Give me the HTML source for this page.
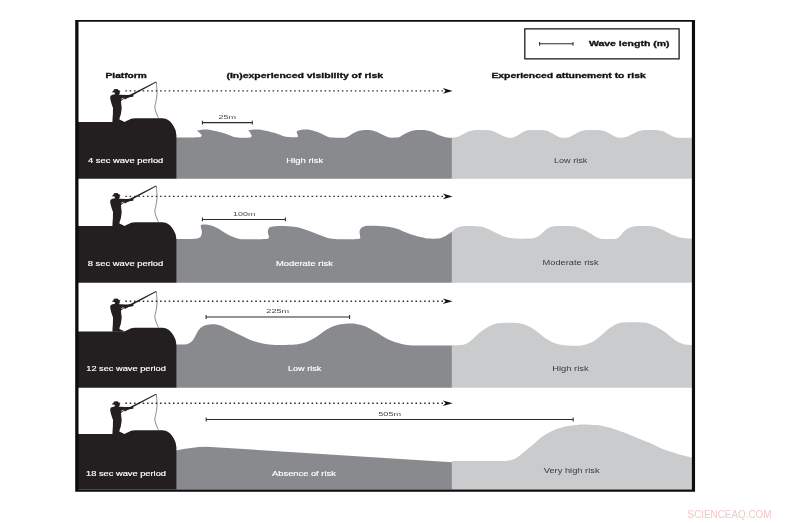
<!DOCTYPE html>
<html lang="en"><head><meta charset="utf-8"><title>Wave period and risk</title>
<style>
html,body{margin:0;padding:0;background:#fff;}
body{width:787px;height:523px;overflow:hidden;}
svg{display:block;font-family:"Liberation Sans",Arial,Helvetica,sans-serif;}
</style></head><body>
<svg width="787" height="523" viewBox="0 0 787 523">
<rect x="0" y="0" width="787" height="523" fill="#fff"/>
<path d="M176,137.4 C177.67,137.4 183.17,137.4 186,137.4 C188.83,137.4 191.83,137.4 193,137.4 C193.67,137.39 195.77,137.42 197,137.35 C198.23,137.28 199.6,137.31 200.4,137 C201.2,136.69 201.57,135.75 201.8,135.5 C201.55,135.18 200.87,134.23 200.3,133.6 C199.73,132.97 199,132.2 198.4,131.7 C197.8,131.2 196.98,130.78 196.7,130.6 C197.33,130.48 199.03,130.07 200.5,129.9 C201.97,129.73 203.83,129.58 205.5,129.6 C207.17,129.62 208.83,129.75 210.5,130 C212.17,130.25 213.08,130.5 215.5,131.1 C217.92,131.7 222.15,132.7 225,133.6 C227.85,134.5 230.43,135.85 232.6,136.5 C234.77,137.15 236.27,137.28 238,137.5 C239.73,137.72 242.17,137.75 243,137.8 C243.75,137.8 246.2,137.88 247.5,137.8 C248.8,137.72 250.1,137.65 250.8,137.3 C251.5,136.95 251.55,135.97 251.7,135.7 C251.52,135.35 250.98,134.28 250.6,133.6 C250.22,132.92 249.82,132.13 249.4,131.6 C248.98,131.07 248.32,130.6 248.1,130.4 C248.75,130.3 250.52,129.95 252,129.8 C253.48,129.65 255.33,129.48 257,129.5 C258.67,129.52 260.33,129.65 262,129.9 C263.67,130.15 264.58,130.4 267,131 C269.42,131.6 273.83,132.67 276.5,133.5 C279.17,134.33 281.08,135.4 283,136 C284.92,136.6 286.38,136.88 288,137.1 C289.62,137.32 291.92,137.27 292.7,137.3 C293.17,137.3 294.7,137.33 295.5,137.3 C296.3,137.27 297.1,137.28 297.5,137.1 C297.9,136.92 297.83,136.35 297.9,136.2 C297.83,135.9 297.7,135 297.5,134.4 C297.3,133.8 296.78,133.15 296.7,132.6 C296.62,132.05 296.95,131.35 297,131.1 C297.58,130.92 299.1,130.25 300.5,130 C301.9,129.75 303.73,129.62 305.4,129.6 C307.07,129.58 308.9,129.63 310.5,129.9 C312.1,130.17 313.42,130.7 315,131.2 C316.58,131.7 318.5,132.27 320,132.9 C321.5,133.53 322.63,134.33 324,135 C325.37,135.67 326.7,136.48 328.2,136.9 C329.7,137.32 331.2,137.37 333,137.5 C334.8,137.63 337.17,137.67 339,137.7 C340.83,137.73 342.67,137.83 344,137.7 C345.33,137.57 345.97,137.32 347,136.9 C348.03,136.48 349.25,135.75 350.2,135.2 C351.15,134.65 351.87,134.1 352.7,133.6 C353.53,133.1 354.37,132.6 355.2,132.2 C356.03,131.8 356.85,131.47 357.7,131.2 C358.55,130.93 359.02,130.82 360.3,130.6 C361.58,130.38 363.95,129.98 365.4,129.9 C366.85,129.82 367.82,129.98 369,130.1 C370.18,130.22 371.42,130.37 372.5,130.6 C373.58,130.83 374.48,131.15 375.5,131.5 C376.52,131.85 377.65,132.28 378.6,132.7 C379.55,133.12 380.35,133.58 381.2,134 C382.05,134.42 382.6,134.7 383.7,135.2 C384.8,135.7 386.75,136.62 387.8,137 C388.85,137.38 389.17,137.38 390,137.5 C390.83,137.62 391.8,137.73 392.8,137.75 C393.8,137.77 394.97,137.69 396,137.6 C397.03,137.51 398.17,137.43 399,137.2 C399.83,136.97 400.33,136.62 401,136.2 C401.67,135.78 402.25,135.17 403,134.7 C403.75,134.23 404.65,133.82 405.5,133.4 C406.35,132.98 407.25,132.55 408.1,132.2 C408.95,131.85 409.75,131.57 410.6,131.3 C411.45,131.03 412.22,130.8 413.2,130.6 C414.18,130.4 415.37,130.22 416.5,130.1 C417.63,129.98 418.75,129.9 420,129.9 C421.25,129.9 422.67,129.95 424,130.1 C425.33,130.25 426.83,130.55 428,130.8 C429.17,131.05 430,131.27 431,131.6 C432,131.93 433,132.37 434,132.8 C435,133.23 436,133.75 437,134.2 C438,134.65 439,135.1 440,135.5 C441,135.9 442,136.3 443,136.6 C444,136.9 445,137.12 446,137.3 C447,137.48 447.97,137.62 449,137.7 C450.03,137.78 451.67,137.78 452.2,137.8 L452.2,178.7 L176,178.7Z" fill="#888a8e"/>
<path d="M451.8,138 C451.92,137.97 452.05,137.86 452.5,137.8 C452.95,137.74 453.83,137.73 454.5,137.62 C455.17,137.51 455.83,137.33 456.5,137.12 C457.17,136.92 457.83,136.66 458.5,136.38 C459.17,136.11 459.83,135.79 460.5,135.47 C461.17,135.15 461.83,134.81 462.5,134.46 C463.17,134.12 463.83,133.77 464.5,133.43 C465.17,133.09 465.83,132.75 466.5,132.44 C467.17,132.13 467.83,131.82 468.5,131.56 C469.17,131.3 469.83,131.06 470.5,130.88 C471.17,130.69 471.83,130.55 472.5,130.45 C473.17,130.36 473.83,130.35 474.5,130.29 C475.17,130.23 475.83,130.15 476.5,130.09 C477.17,130.04 477.83,130 478.5,129.96 C479.17,129.93 479.83,129.91 480.5,129.9 C481.17,129.9 481.83,129.9 482.5,129.91 C483.17,129.93 483.83,129.95 484.5,129.99 C485.17,130.03 485.83,130.08 486.5,130.14 C487.17,130.2 487.83,130.28 488.5,130.35 C489.17,130.42 489.83,130.42 490.5,130.53 C491.17,130.64 491.83,130.82 492.5,131.03 C493.17,131.23 493.83,131.49 494.5,131.77 C495.17,132.04 495.83,132.36 496.5,132.68 C497.17,133 497.83,133.34 498.5,133.69 C499.17,134.03 499.83,134.38 500.5,134.72 C501.17,135.06 501.83,135.4 502.5,135.71 C503.17,136.02 503.83,136.33 504.5,136.59 C505.17,136.85 505.83,137.09 506.5,137.27 C507.17,137.46 507.92,137.61 508.5,137.7 C509.08,137.78 509.58,137.78 510,137.8 C510.42,137.82 510.5,137.84 511,137.8 C511.5,137.76 512.33,137.7 513,137.53 C513.67,137.37 514.33,137.1 515,136.81 C515.67,136.52 516.33,136.15 517,135.77 C517.67,135.4 518.33,134.97 519,134.55 C519.67,134.14 520.33,133.69 521,133.28 C521.67,132.87 522.33,132.45 523,132.1 C523.67,131.74 524.33,131.39 525,131.12 C525.67,130.86 526.33,130.64 527,130.5 C527.67,130.37 528.33,130.36 529,130.29 C529.67,130.23 530.33,130.16 531,130.11 C531.67,130.05 532.33,130.01 533,129.98 C533.67,129.95 534.33,129.92 535,129.91 C535.67,129.9 536.33,129.9 537,129.9 C537.67,129.91 538.33,129.93 539,129.96 C539.67,129.98 540.33,130.02 541,130.07 C541.67,130.12 542.33,130.18 543,130.24 C543.67,130.3 544.33,130.31 545,130.41 C545.67,130.51 546.33,130.65 547,130.85 C547.67,131.05 548.33,131.33 549,131.63 C549.67,131.92 550.33,132.28 551,132.64 C551.67,133 552.33,133.4 553,133.78 C553.67,134.17 554.33,134.57 555,134.95 C555.67,135.33 556.33,135.71 557,136.04 C557.67,136.37 558.33,136.69 559,136.95 C559.67,137.2 560.33,137.43 561,137.57 C561.67,137.71 562.25,137.76 563,137.8 C563.75,137.84 564.75,137.84 565.5,137.8 C566.25,137.76 566.83,137.72 567.5,137.58 C568.17,137.45 568.83,137.23 569.5,136.99 C570.17,136.74 570.83,136.44 571.5,136.12 C572.17,135.8 572.83,135.43 573.5,135.07 C574.17,134.7 574.83,134.31 575.5,133.93 C576.17,133.56 576.83,133.16 577.5,132.81 C578.17,132.45 578.83,132.1 579.5,131.79 C580.17,131.49 580.83,131.2 581.5,130.98 C582.17,130.76 582.83,130.59 583.5,130.48 C584.17,130.36 584.83,130.36 585.5,130.29 C586.17,130.23 586.83,130.16 587.5,130.11 C588.17,130.05 588.83,130.01 589.5,129.98 C590.17,129.95 590.83,129.92 591.5,129.91 C592.17,129.9 592.83,129.9 593.5,129.9 C594.17,129.91 594.83,129.93 595.5,129.96 C596.17,129.98 596.83,130.02 597.5,130.07 C598.17,130.12 598.83,130.19 599.5,130.24 C600.17,130.3 600.83,130.31 601.5,130.4 C602.17,130.5 602.83,130.62 603.5,130.8 C604.17,130.99 604.83,131.24 605.5,131.51 C606.17,131.79 606.83,132.12 607.5,132.45 C608.17,132.78 608.83,133.15 609.5,133.52 C610.17,133.88 610.83,134.27 611.5,134.63 C612.17,135 612.83,135.37 613.5,135.7 C614.17,136.03 614.83,136.36 615.5,136.64 C616.17,136.91 616.83,137.16 617.5,137.35 C618.17,137.53 619,137.67 619.5,137.75 C620,137.82 620.17,137.79 620.5,137.8 C620.83,137.81 621,137.83 621.5,137.8 C622,137.77 622.83,137.73 623.5,137.62 C624.17,137.51 624.83,137.33 625.5,137.12 C626.17,136.92 626.83,136.66 627.5,136.38 C628.17,136.11 628.83,135.79 629.5,135.47 C630.17,135.15 630.83,134.81 631.5,134.46 C632.17,134.12 632.83,133.77 633.5,133.43 C634.17,133.09 634.83,132.75 635.5,132.44 C636.17,132.13 636.83,131.82 637.5,131.56 C638.17,131.3 638.83,131.06 639.5,130.88 C640.17,130.69 640.83,130.55 641.5,130.45 C642.17,130.36 642.83,130.35 643.5,130.29 C644.17,130.24 644.83,130.16 645.5,130.11 C646.17,130.05 646.83,130.01 647.5,129.98 C648.17,129.95 648.83,129.92 649.5,129.91 C650.17,129.9 650.83,129.9 651.5,129.9 C652.17,129.91 652.83,129.93 653.5,129.96 C654.17,129.98 654.83,130.02 655.5,130.07 C656.17,130.12 656.83,130.19 657.5,130.24 C658.17,130.3 658.83,130.31 659.5,130.4 C660.17,130.5 660.83,130.62 661.5,130.8 C662.17,130.99 662.83,131.24 663.5,131.51 C664.17,131.79 664.83,132.12 665.5,132.45 C666.17,132.78 666.83,133.15 667.5,133.52 C668.17,133.88 668.83,134.27 669.5,134.63 C670.17,135 670.83,135.37 671.5,135.7 C672.17,136.03 672.83,136.36 673.5,136.64 C674.17,136.91 674.83,137.16 675.5,137.35 C676.17,137.53 677,137.67 677.5,137.75 C678,137.82 675.92,137.79 678.5,137.8 C681.08,137.81 690.58,137.8 693,137.8 L693,178.7 L451.8,178.7Z" fill="#c9cbcd"/>
<path d="M176,238.9 C177.67,238.9 183.17,238.9 186,238.9 C188.83,238.9 191.83,238.9 193,238.9 C193.67,238.85 195.8,238.88 197,238.6 C198.2,238.32 199.42,237.92 200.2,237.2 C200.98,236.48 201.45,235.42 201.7,234.3 C201.95,233.18 201.83,231.63 201.7,230.5 C201.57,229.37 201.05,228.38 200.9,227.5 C200.75,226.62 200.82,225.58 200.8,225.2 C201.17,225.1 202.23,224.7 203,224.6 C203.77,224.5 204.23,224.48 205.4,224.6 C206.57,224.72 208.3,224.87 210,225.3 C211.7,225.73 213.83,226.42 215.6,227.2 C217.37,227.98 218.92,228.98 220.6,230 C222.28,231.02 224,232.3 225.7,233.3 C227.4,234.3 229.1,235.23 230.8,236 C232.5,236.77 234.37,237.42 235.9,237.9 C237.43,238.38 238.48,238.68 240,238.9 C241.52,239.12 242.5,239.15 245,239.2 C247.5,239.25 252.17,239.2 255,239.2 C257.83,239.2 260.83,239.2 262,239.2 C262.58,239.18 264.47,239.22 265.5,239.1 C266.53,238.98 267.62,238.88 268.2,238.5 C268.78,238.12 268.87,237.08 269,236.8 C268.88,236.42 268.5,235.25 268.3,234.5 C268.1,233.75 267.85,233.02 267.8,232.3 C267.75,231.58 267.82,230.88 268,230.2 C268.18,229.52 268.48,228.73 268.9,228.2 C269.32,227.67 269.48,227.33 270.5,227 C271.52,226.67 273.32,226.37 275,226.2 C276.68,226.03 278.43,226 280.6,226 C282.77,226 285.45,226.03 288,226.2 C290.55,226.37 293.32,226.55 295.9,227 C298.48,227.45 300.97,228.1 303.5,228.9 C306.03,229.7 308.32,230.73 311.1,231.8 C313.88,232.87 317.8,234.4 320.2,235.3 C322.6,236.2 323.82,236.68 325.5,237.2 C327.18,237.72 328.72,238.1 330.3,238.4 C331.88,238.7 333.3,238.87 335,239 C336.7,239.13 338.33,239.17 340.5,239.2 C342.67,239.23 345.58,239.2 348,239.2 C350.42,239.2 353.83,239.2 355,239.2 C355.5,239.18 357.18,239.2 358,239.1 C358.82,239 359.52,238.88 359.9,238.6 C360.28,238.32 360.23,237.6 360.3,237.4 C360.23,237 360.02,235.82 359.9,235 C359.78,234.18 359.62,233.3 359.6,232.5 C359.58,231.7 359.58,230.92 359.8,230.2 C360.02,229.48 360.4,228.73 360.9,228.2 C361.4,227.67 362.07,227.35 362.8,227 C363.53,226.65 364.45,226.32 365.3,226.1 C366.15,225.88 366.45,225.77 367.9,225.7 C369.35,225.63 371.98,225.65 374,225.7 C376.02,225.75 377.67,225.82 380,226 C382.33,226.18 385.47,226.43 388,226.8 C390.53,227.17 393.15,227.67 395.2,228.2 C397.25,228.73 398.6,229.32 400.3,230 C402,230.68 403.7,231.6 405.4,232.3 C407.1,233 408.8,233.62 410.5,234.2 C412.2,234.78 413.92,235.32 415.6,235.8 C417.28,236.28 418.92,236.7 420.6,237.1 C422.28,237.5 424.22,237.95 425.7,238.2 C427.18,238.45 428.32,238.52 429.5,238.6 C430.68,238.68 431.55,238.72 432.8,238.7 C434.05,238.68 435.63,238.63 437,238.5 C438.37,238.37 439.5,238.37 441,237.9 C442.5,237.43 444.13,236.75 446,235.7 C447.87,234.65 451.17,232.28 452.2,231.6 L452.2,282.8 L176,282.8Z" fill="#888a8e"/>
<path d="M451.8,231.8 C452.52,231.2 454.37,229.12 456.1,228.2 C457.83,227.28 459.83,226.68 462.2,226.3 C464.57,225.92 467.25,225.85 470.3,225.9 C473.35,225.95 477.62,226.13 480.5,226.6 C483.38,227.07 485.4,227.85 487.6,228.7 C489.8,229.55 491.67,230.68 493.7,231.7 C495.73,232.72 497.77,233.9 499.8,234.8 C501.83,235.7 503.7,236.52 505.9,237.1 C508.1,237.68 510.47,238.03 513,238.3 C515.53,238.57 518.6,238.65 521.1,238.7 C523.6,238.75 525.98,238.68 528,238.6 C530.02,238.52 531.48,238.58 533.2,238.2 C534.92,237.82 536.77,237.22 538.3,236.3 C539.83,235.38 541.05,233.88 542.4,232.7 C543.75,231.52 545.05,230.13 546.4,229.2 C547.75,228.27 548.97,227.62 550.5,227.1 C552.03,226.58 553.35,226.3 555.6,226.1 C557.85,225.9 561.13,225.88 564,225.9 C566.87,225.92 570.32,225.9 572.8,226.2 C575.28,226.5 576.87,227.03 578.9,227.7 C580.93,228.37 582.97,229.2 585,230.2 C587.03,231.2 589.38,232.63 591.1,233.7 C592.82,234.77 593.7,235.75 595.3,236.6 C596.9,237.45 598.58,238.38 600.7,238.8 C602.82,239.22 605.55,239.1 608,239.1 C610.45,239.1 613.5,239.2 615.4,238.8 C617.3,238.4 618.07,237.83 619.4,236.7 C620.73,235.57 622.07,233.33 623.4,232 C624.73,230.67 625.85,229.58 627.4,228.7 C628.95,227.82 630.93,227.15 632.7,226.7 C634.47,226.25 636.12,226.13 638,226 C639.88,225.87 642,225.88 644,225.9 C646,225.92 647.88,225.82 650,226.1 C652.12,226.38 654.47,226.9 656.7,227.6 C658.93,228.3 661.17,229.28 663.4,230.3 C665.63,231.32 667.88,232.68 670.1,233.7 C672.32,234.72 674.48,235.68 676.7,236.4 C678.92,237.12 680.95,237.62 683.4,238 C685.85,238.38 689.8,238.58 691.4,238.7 C693,238.82 692.73,238.7 693,238.7 L693,282.8 L451.8,282.8Z" fill="#c9cbcd"/>
<path d="M176,344.4 C176.83,344.4 179.23,344.43 181,344.4 C182.77,344.37 185.1,344.47 186.6,344.2 C188.1,343.93 188.9,343.53 190,342.8 C191.1,342.07 192.25,341.05 193.2,339.8 C194.15,338.55 194.88,336.82 195.7,335.3 C196.52,333.78 197.3,331.92 198.1,330.7 C198.9,329.48 199.67,328.75 200.5,328 C201.33,327.25 202.13,326.72 203.1,326.2 C204.07,325.68 205.2,325.2 206.3,324.9 C207.4,324.6 208.58,324.5 209.7,324.4 C210.82,324.3 211.9,324.28 213,324.3 C214.1,324.32 215.05,324.28 216.3,324.5 C217.55,324.72 219.12,325.12 220.5,325.6 C221.88,326.08 222.55,326.42 224.6,327.4 C226.65,328.38 230.05,330.13 232.8,331.5 C235.55,332.87 238.35,334.28 241.1,335.6 C243.85,336.92 246.55,338.28 249.3,339.4 C252.05,340.52 254.85,341.52 257.6,342.3 C260.35,343.08 263.48,343.68 265.8,344.1 C268.12,344.52 269.57,344.63 271.5,344.8 C273.43,344.97 274.98,345.08 277.4,345.1 C279.82,345.12 283.07,345 286,344.9 C288.93,344.8 292.67,344.7 295,344.5 C297.33,344.3 298.3,344.05 300,343.7 C301.7,343.35 303.5,342.98 305.2,342.4 C306.9,341.82 308.52,341.03 310.2,340.2 C311.88,339.37 313.6,338.45 315.3,337.4 C317,336.35 318.7,335.1 320.4,333.9 C322.1,332.7 323.8,331.27 325.5,330.2 C327.2,329.13 328.9,328.27 330.6,327.5 C332.3,326.73 334,326.13 335.7,325.6 C337.4,325.07 339.12,324.62 340.8,324.3 C342.48,323.98 344.1,323.83 345.8,323.7 C347.5,323.57 349.3,323.47 351,323.5 C352.7,323.53 354.33,323.65 356,323.9 C357.67,324.15 359.3,324.52 361,325 C362.7,325.48 364.48,326.07 366.2,326.8 C367.92,327.53 369.62,328.48 371.3,329.4 C372.98,330.32 374.62,331.3 376.3,332.3 C377.98,333.3 379.7,334.38 381.4,335.4 C383.1,336.42 384.82,337.52 386.5,338.4 C388.18,339.28 389.82,340.03 391.5,340.7 C393.18,341.37 394.9,341.87 396.6,342.4 C398.3,342.93 400,343.48 401.7,343.9 C403.4,344.32 404.92,344.65 406.8,344.9 C408.68,345.15 410.8,345.3 413,345.4 C415.2,345.5 416.33,345.48 420,345.5 C423.67,345.52 429.63,345.5 435,345.5 C440.37,345.5 449.33,345.5 452.2,345.5 L452.2,387.8 L176,387.8Z" fill="#888a8e"/>
<path d="M451.8,345.2 C452.83,345.2 456.1,345.27 458,345.2 C459.9,345.13 461.78,345.07 463.2,344.8 C464.62,344.53 465.4,344.17 466.5,343.6 C467.6,343.03 468.55,342.37 469.8,341.4 C471.05,340.43 472.63,339.03 474,337.8 C475.37,336.57 476.63,335.18 478,334 C479.37,332.82 480.82,331.72 482.2,330.7 C483.58,329.68 484.92,328.73 486.3,327.9 C487.68,327.07 489.12,326.33 490.5,325.7 C491.88,325.07 493.35,324.5 494.6,324.1 C495.85,323.7 496.9,323.5 498,323.3 C499.1,323.1 499.28,323 501.2,322.9 C503.12,322.8 506.75,322.68 509.5,322.7 C512.25,322.72 515.5,322.78 517.7,323 C519.9,323.22 521.05,323.55 522.7,324 C524.35,324.45 526.1,325.03 527.6,325.7 C529.1,326.37 530.33,327.17 531.7,328 C533.07,328.83 534.42,329.7 535.8,330.7 C537.18,331.7 538.62,332.9 540,334 C541.38,335.1 542.72,336.3 544.1,337.3 C545.48,338.3 546.92,339.17 548.3,340 C549.68,340.83 551.03,341.68 552.4,342.3 C553.77,342.92 555.13,343.3 556.5,343.7 C557.87,344.1 558.85,344.4 560.6,344.7 C562.35,345 564.6,345.32 567,345.5 C569.4,345.68 572.58,345.8 575,345.8 C577.42,345.8 579.67,345.7 581.5,345.5 C583.33,345.3 584.62,345 586,344.6 C587.38,344.2 588.47,343.72 589.8,343.1 C591.13,342.48 592.63,341.73 594,340.9 C595.37,340.07 596.63,339.15 598,338.1 C599.37,337.05 600.82,335.83 602.2,334.6 C603.58,333.37 604.92,331.9 606.3,330.7 C607.68,329.5 609.12,328.37 610.5,327.4 C611.88,326.43 613.23,325.6 614.6,324.9 C615.97,324.2 617.33,323.6 618.7,323.2 C620.07,322.8 620.33,322.67 622.8,322.5 C625.27,322.33 629.92,322.2 633.5,322.2 C637.08,322.2 641.55,322.2 644.3,322.5 C647.05,322.8 648.08,323.32 650,324 C651.92,324.68 654.13,325.77 655.8,326.6 C657.47,327.43 658.62,328.18 660,329 C661.38,329.82 662.72,330.53 664.1,331.5 C665.48,332.47 666.92,333.7 668.3,334.8 C669.68,335.9 671.03,337.08 672.4,338.1 C673.77,339.12 675.13,340.07 676.5,340.9 C677.87,341.73 679.35,342.55 680.6,343.1 C681.85,343.65 682.9,343.93 684,344.2 C685.1,344.47 685.7,344.57 687.2,344.7 C688.7,344.83 692.03,344.95 693,345 L693,387.8 L451.8,387.8Z" fill="#c9cbcd"/>
<path d="M176,450.4 C186,448.4 196,446.9 206.6,446.75 L452.2,462.2 L452.2,489.5 L176,489.5Z" fill="#888a8e"/>
<path d="M451.8,461 C454.83,461 463.63,461 470,461 C476.37,461 484.67,461 490,461 C495.33,461 498.88,461.07 502,461 C505.12,460.93 506.25,461.15 508.7,460.6 C511.15,460.05 514.32,459 516.7,457.7 C519.08,456.4 520.78,454.58 523,452.8 C525.22,451.02 527.72,448.93 530,447 C532.28,445.07 534.47,443.07 536.7,441.2 C538.93,439.33 541.18,437.35 543.4,435.8 C545.62,434.25 547.78,433.05 550,431.9 C552.22,430.75 554.48,429.73 556.7,428.9 C558.92,428.07 561.08,427.43 563.3,426.9 C565.52,426.37 567.77,426.03 570,425.7 C572.23,425.37 574.47,425.08 576.7,424.9 C578.93,424.72 581.18,424.63 583.4,424.6 C585.62,424.57 587.78,424.62 590,424.7 C592.22,424.78 594.47,424.85 596.7,425.1 C598.93,425.35 601.17,425.75 603.4,426.2 C605.63,426.65 607.88,427.18 610.1,427.8 C612.32,428.42 614.48,429.15 616.7,429.9 C618.92,430.65 621.18,431.45 623.4,432.3 C625.62,433.15 627.78,434.1 630,435 C632.22,435.9 634.47,436.8 636.7,437.7 C638.93,438.6 641.17,439.52 643.4,440.4 C645.63,441.28 647.88,442.03 650.1,443 C652.32,443.97 654.48,445.17 656.7,446.2 C658.92,447.23 661.18,448.3 663.4,449.2 C665.62,450.1 667.77,450.85 670,451.6 C672.23,452.35 674.55,453.03 676.8,453.7 C679.05,454.37 681.28,455.02 683.5,455.6 C685.72,456.18 688.52,456.83 690.1,457.2 C691.68,457.57 692.52,457.7 693,457.8 L693,489.6 L451.8,489.6Z" fill="#c9cbcd"/>
<path d="M76,122 L122.5,122 C127,122 129,118.2 135,118.2 L162.5,118.2 C167,118.4 170,120.8 171.6,123.2 C174,126.5 175.3,129.2 175.7,130.8 L176.4,135.2 L176.4,178.7 L76,178.7 Z" fill="#231f20"/>
<path d="M113.8,89.3 L117.6,89.1 L118.6,90.3 L120.2,90.7 L120.3,91.5 L119.6,91.8 L119.9,93.2 L119.2,94.2 L118.6,94.6 L120,94.7 L126,94.9 L131.5,94.8 L133.3,94.6 L133.5,96.4 L131.5,96.9 L127,97.4 L125,98 L123,99.4 L121,100.9 L121.2,104 L121.7,107.5 L121.5,110 L120.8,114.5 L119.6,118 L119.4,119.6 L121.5,120.4 L123.6,121.3 L123.6,122.3 L112.4,122.3 L112.5,119.3 L112.9,114 L113,108 L111.8,104.5 L111,102 L110.3,99 L110.2,96.8 L111,95.4 L112.5,94.8 L115,94.2 L114.6,92.6 L112.1,92.3 L112.3,91.5 L113.6,90.8Z" fill="#231f20"/><path d="M121.4,98.4 L124.2,97.5 L121.6,99.7Z" fill="#fff"/><path d="M124.0,97.8 L156.0,81.6 L156.55,82.3 L124.9,99.5Z" fill="#231f20"/><path d="M156.3,82 C156.6,86 157.3,91 157,94.5 C156.7,98 156,101 155.6,103.5 C155.3,105 154.6,106 154.8,107.4 C155,109.5 155.7,111 156.2,112.7 C156.8,114.5 157.8,116 158.5,117.9" fill="none" stroke="#3a3a3a" stroke-width="0.6"/>
<line x1="125.4" y1="90.9" x2="444" y2="90.9" stroke="#2a2a2a" stroke-width="1.4" stroke-dasharray="1.5 2.83"/>
<path d="M452.6,90.9 L442.8,88.1 L445.6,90.9 L442.8,93.7Z" fill="#111"/>
<path d="M76,226 L122.5,226 C127,226 129,222.2 135,222.2 L162.5,222.2 C167,222.4 170,224.8 171.6,227.2 C174,230.5 175.3,233.2 175.7,234.8 L176.4,239.2 L176.4,282.8 L76,282.8 Z" fill="#231f20"/>
<path d="M113.8,193.3 L117.6,193.1 L118.6,194.3 L120.2,194.7 L120.3,195.5 L119.6,195.8 L119.9,197.2 L119.2,198.2 L118.6,198.6 L120,198.7 L126,198.9 L131.5,198.8 L133.3,198.6 L133.5,200.4 L131.5,200.9 L127,201.4 L125,202 L123,203.4 L121,204.9 L121.2,208 L121.7,211.5 L121.5,214 L120.8,218.5 L119.6,222 L119.4,223.6 L121.5,224.4 L123.6,225.3 L123.6,226.3 L112.4,226.3 L112.5,223.3 L112.9,218 L113,212 L111.8,208.5 L111,206 L110.3,203 L110.2,200.8 L111,199.4 L112.5,198.8 L115,198.2 L114.6,196.6 L112.1,196.3 L112.3,195.5 L113.6,194.8Z" fill="#231f20"/><path d="M121.4,202.4 L124.2,201.5 L121.6,203.7Z" fill="#fff"/><path d="M124.0,201.8 L156.0,185.6 L156.55,186.3 L124.9,203.5Z" fill="#231f20"/><path d="M156.3,186 C156.6,190 157.3,195 157,198.5 C156.7,202 156,205 155.6,207.5 C155.3,209 154.6,210 154.8,211.4 C155,213.5 155.7,215 156.2,216.7 C156.8,218.5 157.8,220 158.5,221.9" fill="none" stroke="#3a3a3a" stroke-width="0.6"/>
<line x1="125.4" y1="196.4" x2="444" y2="196.4" stroke="#2a2a2a" stroke-width="1.4" stroke-dasharray="1.5 2.83"/>
<path d="M452.6,196.4 L442.8,193.6 L445.6,196.4 L442.8,199.2Z" fill="#111"/>
<path d="M76,331.5 L122.5,331.5 C127,331.5 129,327.7 135,327.7 L162.5,327.7 C167,327.9 170,330.3 171.6,332.7 C174,336 175.3,338.7 175.7,340.3 L176.4,344.7 L176.4,387.8 L76,387.8 Z" fill="#231f20"/>
<path d="M113.8,298.8 L117.6,298.6 L118.6,299.8 L120.2,300.2 L120.3,301 L119.6,301.3 L119.9,302.7 L119.2,303.7 L118.6,304.1 L120,304.2 L126,304.4 L131.5,304.3 L133.3,304.1 L133.5,305.9 L131.5,306.4 L127,306.9 L125,307.5 L123,308.9 L121,310.4 L121.2,313.5 L121.7,317 L121.5,319.5 L120.8,324 L119.6,327.5 L119.4,329.1 L121.5,329.9 L123.6,330.8 L123.6,331.8 L112.4,331.8 L112.5,328.8 L112.9,323.5 L113,317.5 L111.8,314 L111,311.5 L110.3,308.5 L110.2,306.3 L111,304.9 L112.5,304.3 L115,303.7 L114.6,302.1 L112.1,301.8 L112.3,301 L113.6,300.3Z" fill="#231f20"/><path d="M121.4,307.9 L124.2,307 L121.6,309.2Z" fill="#fff"/><path d="M124.0,307.3 L156.0,291.1 L156.55,291.8 L124.9,309Z" fill="#231f20"/><path d="M156.3,291.5 C156.6,295.5 157.3,300.5 157,304 C156.7,307.5 156,310.5 155.6,313 C155.3,314.5 154.6,315.5 154.8,316.9 C155,319 155.7,320.5 156.2,322.2 C156.8,324 157.8,325.5 158.5,327.4" fill="none" stroke="#3a3a3a" stroke-width="0.6"/>
<line x1="125.4" y1="301.3" x2="444" y2="301.3" stroke="#2a2a2a" stroke-width="1.4" stroke-dasharray="1.5 2.83"/>
<path d="M452.6,301.3 L442.8,298.5 L445.6,301.3 L442.8,304.1Z" fill="#111"/>
<path d="M76,434.1 L122.5,434.1 C127,434.1 129,430.3 135,430.3 L162.5,430.3 C167,430.5 170,432.9 171.6,435.3 C174,438.6 175.3,441.3 175.7,442.9 L176.4,447.3 L176.4,489.5 L76,489.5 Z" fill="#231f20"/>
<path d="M113.8,401.4 L117.6,401.2 L118.6,402.4 L120.2,402.8 L120.3,403.6 L119.6,403.9 L119.9,405.3 L119.2,406.3 L118.6,406.7 L120,406.8 L126,407 L131.5,406.9 L133.3,406.7 L133.5,408.5 L131.5,409 L127,409.5 L125,410.1 L123,411.5 L121,413 L121.2,416.1 L121.7,419.6 L121.5,422.1 L120.8,426.6 L119.6,430.1 L119.4,431.7 L121.5,432.5 L123.6,433.4 L123.6,434.4 L112.4,434.4 L112.5,431.4 L112.9,426.1 L113,420.1 L111.8,416.6 L111,414.1 L110.3,411.1 L110.2,408.9 L111,407.5 L112.5,406.9 L115,406.3 L114.6,404.7 L112.1,404.4 L112.3,403.6 L113.6,402.9Z" fill="#231f20"/><path d="M121.4,410.5 L124.2,409.6 L121.6,411.8Z" fill="#fff"/><path d="M124.0,409.9 L156.0,393.7 L156.55,394.4 L124.9,411.6Z" fill="#231f20"/><path d="M156.3,394.1 C156.6,398.1 157.3,403.1 157,406.6 C156.7,410.1 156,413.1 155.6,415.6 C155.3,417.1 154.6,418.1 154.8,419.5 C155,421.6 155.7,423.1 156.2,424.8 C156.8,426.6 157.8,428.1 158.5,430" fill="none" stroke="#3a3a3a" stroke-width="0.6"/>
<line x1="125.4" y1="403.2" x2="444" y2="403.2" stroke="#2a2a2a" stroke-width="1.4" stroke-dasharray="1.5 2.83"/>
<path d="M452.6,403.2 L442.8,400.4 L445.6,403.2 L442.8,406Z" fill="#111"/>
<path d="M202.4,122.6 L252.3,122.6 M202.4,120.7 L202.4,124.5 M252.3,120.7 L252.3,124.5" stroke="#2b2b2b" stroke-width="1.05" fill="none"/><text x="218.6" y="118.8" font-size="6.2" fill="#48484a" textLength="17.5" lengthAdjust="spacingAndGlyphs">25m</text>
<path d="M202.4,219.4 L285.4,219.4 M202.4,217.5 L202.4,221.3 M285.4,217.5 L285.4,221.3" stroke="#2b2b2b" stroke-width="1.05" fill="none"/><text x="233.1" y="215.6" font-size="6.2" fill="#48484a" textLength="22.3" lengthAdjust="spacingAndGlyphs">100m</text>
<path d="M206.1,317 L349.6,317 M206.1,315.1 L206.1,318.9 M349.6,315.1 L349.6,318.9" stroke="#2b2b2b" stroke-width="1.05" fill="none"/><text x="266.3" y="313.3" font-size="6.2" fill="#48484a" textLength="22.9" lengthAdjust="spacingAndGlyphs">225m</text>
<path d="M206.2,419.5 L573.2,419.5 M206.2,417.6 L206.2,421.4 M573.2,417.6 L573.2,421.4" stroke="#2b2b2b" stroke-width="1.05" fill="none"/><text x="378.3" y="415.6" font-size="6.2" fill="#48484a" textLength="22.8" lengthAdjust="spacingAndGlyphs">505m</text>
<path d="M539.6,43.8 L573,43.8 M539.6,41.9 L539.6,45.7 M573,41.9 L573,45.7" stroke="#2b2b2b" stroke-width="1.05" fill="none"/>
<rect x="524.8" y="28.85" width="154.3" height="30" fill="none" stroke="#262626" stroke-width="1.35"/>
<text x="588.9" y="45.6" font-size="7.6" font-weight="700" fill="#111" stroke="#111" stroke-width="0.3" textLength="80.7" lengthAdjust="spacingAndGlyphs">Wave length (m)</text>
<text x="105.6" y="78" font-size="7.2" font-weight="700" fill="#111" stroke="#111" stroke-width="0.3" textLength="41.2" lengthAdjust="spacingAndGlyphs">Platform</text>
<text x="226.4" y="77.8" font-size="7.2" font-weight="700" fill="#111" stroke="#111" stroke-width="0.3" textLength="156.7" lengthAdjust="spacingAndGlyphs">(In)experienced visibility of risk</text>
<text x="491.4" y="77.8" font-size="7.2" font-weight="700" fill="#111" stroke="#111" stroke-width="0.3" textLength="154.4" lengthAdjust="spacingAndGlyphs">Experienced attunement to risk</text>
<text x="88" y="163" font-size="6.6" font-weight="400" fill="#fff" stroke="#fff" stroke-width="0.15" textLength="75.3" lengthAdjust="spacingAndGlyphs">4 sec wave period</text>
<text x="87.8" y="266" font-size="6.6" font-weight="400" fill="#fff" stroke="#fff" stroke-width="0.15" textLength="75.5" lengthAdjust="spacingAndGlyphs">8 sec wave period</text>
<text x="86.3" y="371.3" font-size="6.6" font-weight="400" fill="#fff" stroke="#fff" stroke-width="0.15" textLength="79.5" lengthAdjust="spacingAndGlyphs">12 sec wave period</text>
<text x="86" y="476.3" font-size="6.6" font-weight="400" fill="#fff" stroke="#fff" stroke-width="0.15" textLength="80" lengthAdjust="spacingAndGlyphs">18 sec wave period</text>
<text x="286.3" y="162.8" font-size="6.6" font-weight="400" fill="#fff" stroke="#fff" stroke-width="0.15" textLength="36.9" lengthAdjust="spacingAndGlyphs">High risk</text>
<text x="276" y="265.7" font-size="6.6" font-weight="400" fill="#fff" stroke="#fff" stroke-width="0.15" textLength="56.9" lengthAdjust="spacingAndGlyphs">Moderate risk</text>
<text x="287.9" y="371" font-size="6.6" font-weight="400" fill="#fff" stroke="#fff" stroke-width="0.15" textLength="33.5" lengthAdjust="spacingAndGlyphs">Low risk</text>
<text x="272.1" y="476.2" font-size="6.6" font-weight="400" fill="#fff" stroke="#fff" stroke-width="0.15" textLength="63.7" lengthAdjust="spacingAndGlyphs">Absence of risk</text>
<text x="553.9" y="163" font-size="6.6" font-weight="400" fill="#3a3a3c" textLength="33.5" lengthAdjust="spacingAndGlyphs">Low risk</text>
<text x="542.6" y="265.4" font-size="6.6" font-weight="400" fill="#3a3a3c" textLength="56" lengthAdjust="spacingAndGlyphs">Moderate risk</text>
<text x="552.2" y="371" font-size="6.6" font-weight="400" fill="#3a3a3c" textLength="36.5" lengthAdjust="spacingAndGlyphs">High risk</text>
<text x="543.7" y="472.7" font-size="6.6" font-weight="400" fill="#3a3a3c" textLength="55.9" lengthAdjust="spacingAndGlyphs">Very high risk</text>
<path d="M75.2,20 H695.05 V491.75 H75.2Z M78.5,21.85 V489.45 H691.9 V21.85Z" fill="#0d0d0d" fill-rule="evenodd"/>
<text x="687.6" y="518.2" font-size="11.7" font-weight="400" fill="#f0c8c8" textLength="83.8" lengthAdjust="spacingAndGlyphs">SCIENCEAQ.COM</text>
</svg>
</body></html>
